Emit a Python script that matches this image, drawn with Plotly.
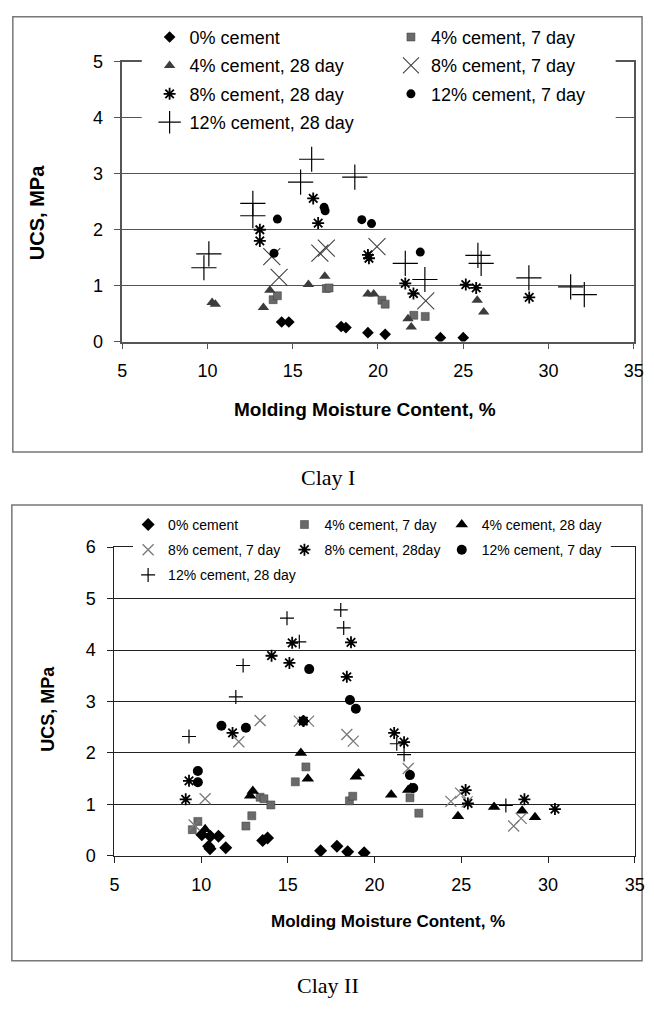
import plotly.graph_objects as go

# ---------------- DATA ----------------
names_clay1 = ["0% cement", "4% cement, 7 day", "4% cement, 28 day", "8% cement, 7 day",
               "8% cement, 28 day", "12% cement, 7 day", "12% cement, 28 day"]
names_clay2 = ["0% cement", "4% cement, 7 day", "4% cement, 28 day", "8% cement, 7 day",
               "8% cement, 28day", "12% cement, 7 day", "12% cement, 28 day"]

x_ticks = [5, 10, 15, 20, 25, 30, 35]
y_ticks_clay1 = [0, 1, 2, 3, 4, 5]
y_ticks_clay2 = [0, 1, 2, 3, 4, 5, 6]

# Clay I
c1_c0_x = [14.35, 14.77, 17.84, 18.12, 19.41, 20.42, 23.66, 25.0]
c1_c0_y = [0.35, 0.35, 0.27, 0.25, 0.16, 0.13, 0.07, 0.07]
c1_c4d7_x = [13.85, 14.1, 16.97, 17.13, 20.23, 20.42, 22.1, 22.77]
c1_c4d7_y = [0.75, 0.82, 0.95, 0.96, 0.74, 0.67, 0.47, 0.45]
c1_c4d28_x = [10.27, 10.46, 13.28, 13.66, 15.92, 16.88, 19.41, 19.75, 21.76, 21.95, 25.82, 26.2]
c1_c4d28_y = [0.70, 0.67, 0.61, 0.92, 1.02, 1.17, 0.85, 0.85, 0.41, 0.26, 0.74, 0.53]
c1_c8d7_x = [13.77, 14.2, 16.59, 16.97, 19.94, 22.8]
c1_c8d7_y = [1.52, 1.15, 1.58, 1.67, 1.70, 0.73]
c1_c8d28_x = [13.07, 13.07, 16.2, 16.49, 19.41, 19.47, 21.6, 22.08, 25.15, 25.76, 28.87]
c1_c8d28_y = [2.00, 1.80, 2.56, 2.12, 1.55, 1.49, 1.04, 0.86, 1.02, 0.96, 0.79]
c1_c12d7_x = [13.9, 14.1, 16.84, 16.9, 19.05, 19.62, 22.48]
c1_c12d7_y = [1.58, 2.19, 2.40, 2.34, 2.18, 2.11, 1.60]
c1_c12d28_x = [9.79, 10.08, 12.66, 12.66, 15.46, 16.11, 18.64, 21.6, 22.75, 25.86, 26.05, 28.85, 31.3, 32.1]
c1_c12d28_y = [1.32, 1.57, 2.47, 2.25, 2.85, 3.26, 2.94, 1.40, 1.11, 1.54, 1.40, 1.14, 0.98, 0.84]

# Clay II
c2_c0_x = [10.04, 10.43, 10.51, 10.53, 11.0, 11.42, 13.55, 13.83, 16.89, 17.83, 18.45, 19.4]
c2_c0_y = [0.41, 0.19, 0.14, 0.38, 0.38, 0.16, 0.30, 0.35, 0.10, 0.19, 0.08, 0.06]
c2_c4d7_x = [9.49, 9.81, 12.58, 12.92, 13.40, 13.62, 14.02, 15.43, 16.04, 18.55, 18.74, 22.04, 22.55]
c2_c4d7_y = [0.51, 0.67, 0.58, 0.78, 1.14, 1.11, 0.99, 1.44, 1.73, 1.07, 1.16, 1.13, 0.83]
c2_c4d28_x = [10.23, 12.83, 12.98, 15.75, 16.15, 18.92, 19.08, 20.96, 21.94, 22.09, 24.81, 26.89, 28.51, 29.25]
c2_c4d28_y = [0.52, 1.17, 1.26, 2.00, 1.50, 1.54, 1.60, 1.19, 1.28, 1.32, 0.77, 0.95, 0.88, 0.75]
c2_c8d7_x = [9.6, 10.23, 12.17, 13.40, 15.66, 16.19, 18.4, 18.77, 21.94, 24.4, 24.96, 25.34, 28.02, 28.45]
c2_c8d7_y = [0.60, 1.11, 2.22, 2.63, 2.62, 2.62, 2.36, 2.23, 1.70, 1.06, 1.22, 1.05, 0.58, 0.73]
c2_c8d28_x = [9.11, 9.30, 11.81, 14.06, 15.09, 15.25, 15.89, 18.4, 18.64, 21.13, 21.7, 25.25, 25.38, 28.64, 30.4]
c2_c8d28_y = [1.10, 1.46, 2.39, 3.89, 3.75, 4.14, 2.62, 3.48, 4.15, 2.39, 2.21, 1.28, 1.02, 1.10, 0.91]
c2_c12d7_x = [9.81, 9.81, 11.17, 12.58, 15.89, 16.23, 18.58, 18.92, 22.04, 22.23]
c2_c12d7_y = [1.65, 1.43, 2.53, 2.49, 2.62, 3.63, 3.03, 2.86, 1.57, 1.32]
c2_c12d28_x = [9.30, 12.0, 12.42, 14.95, 15.66, 18.05, 18.22, 21.28, 21.7, 27.57]
c2_c12d28_y = [2.32, 3.09, 3.70, 4.62, 4.16, 4.78, 4.43, 2.18, 1.97, 0.98]

clay1 = [(c1_c0_x, c1_c0_y), (c1_c4d7_x, c1_c4d7_y), (c1_c4d28_x, c1_c4d28_y), (c1_c8d7_x, c1_c8d7_y),
         (c1_c8d28_x, c1_c8d28_y), (c1_c12d7_x, c1_c12d7_y), (c1_c12d28_x, c1_c12d28_y)]
clay2 = [(c2_c0_x, c2_c0_y), (c2_c4d7_x, c2_c4d7_y), (c2_c4d28_x, c2_c4d28_y), (c2_c8d7_x, c2_c8d7_y),
         (c2_c8d28_x, c2_c8d28_y), (c2_c12d7_x, c2_c12d7_y), (c2_c12d28_x, c2_c12d28_y)]

# ---------------- STYLES ----------------
FONT = "Liberation Sans, Arial, sans-serif"
SERIF = "Liberation Serif, Times New Roman, serif"

style1 = [
    dict(symbol="diamond", size=9, color="black"),
    dict(symbol="square", size=8, color="#6a6a6a", line=dict(color="#3a3a3a", width=0.5)),
    dict(symbol="triangle-up", size=10, color="#3c3c3c"),
    dict(symbol="x-thin-open", size=17, color="#404040", line=dict(color="#404040", width=1.1)),
    dict(symbol="asterisk-open", size=10, color="black", line=dict(color="black", width=1.8)),
    dict(symbol="circle", size=9, color="black"),
    dict(symbol="cross-thin-open", size=18, color="black", line=dict(color="black", width=1.2)),
]
style2 = [
    dict(symbol="diamond", size=10, color="black"),
    dict(symbol="square", size=8, color="#6a6a6a", line=dict(color="#3a3a3a", width=0.5)),
    dict(symbol="triangle-up", size=11, color="black"),
    dict(symbol="x-thin-open", size=11, color="#7a7a7a", line=dict(color="#7a7a7a", width=1.3)),
    dict(symbol="asterisk-open", size=10, color="black", line=dict(color="black", width=1.8)),
    dict(symbol="circle", size=10, color="black"),
    dict(symbol="cross-thin-open", size=10, color="black", line=dict(color="black", width=1.2)),
]
# legend column assignment (Excel-like grid legends)
legend_of1 = ["legend", "legend2", "legend", "legend2", "legend", "legend2", "legend"]
legend_of2 = ["legend3", "legend4", "legend5", "legend3", "legend4", "legend5", "legend3"]

W, H = 654, 1010


def px_x(p):
    return p / W


def px_y(p):
    return 1 - p / H


fig = go.Figure()

for i, ((xs, ys), name, st) in enumerate(zip(clay1, names_clay1, style1)):
    fig.add_trace(go.Scatter(x=xs, y=ys, mode="markers", name=name, marker=st,
                             xaxis="x", yaxis="y", legend=legend_of1[i],
                             legendgroup=f"c1_{i}"))
for i, ((xs, ys), name, st) in enumerate(zip(clay2, names_clay2, style2)):
    fig.add_trace(go.Scatter(x=xs, y=ys, mode="markers", name=name, marker=st,
                             xaxis="x2", yaxis="y2", legend=legend_of2[i],
                             legendgroup=f"c2_{i}"))

axis_common = dict(showline=True, mirror=True, ticks="outside", ticklen=6,
                   tickfont=dict(family=FONT, size=18, color="black"),
                   zeroline=False, fixedrange=True)


def leg(xpx, ypx, size, gap):
    return dict(orientation="v", x=px_x(xpx), xanchor="left", y=px_y(ypx), yanchor="top",
                bgcolor="rgba(0,0,0,0)", borderwidth=0, traceorder="grouped",
                tracegroupgap=gap, font=dict(family=FONT, size=size, color="black"))


fig.update_layout(
    width=W, height=H, autosize=False,
    margin=dict(l=0, r=0, t=0, b=0),
    paper_bgcolor="white", plot_bgcolor="white",
    font=dict(family=FONT, color="black"),
    xaxis=dict(domain=[px_x(120), px_x(643.5)], range=[5, 35], tickvals=x_ticks,
               showgrid=False, linecolor="#555", linewidth=1.5, tickcolor="#555",
               ticklabelstandoff=6, anchor="y", **axis_common),
    yaxis=dict(domain=[px_y(338.3), px_y(53)], range=[0, 5], tickvals=y_ticks_clay1,
               showgrid=True, gridcolor="#555", gridwidth=1,
               linecolor="#555", linewidth=1.5, tickcolor="#555",
               ticklabelstandoff=8, anchor="x", **axis_common),
    xaxis2=dict(domain=[px_x(112), px_x(644.5)], range=[5, 35], tickvals=x_ticks,
                showgrid=False, linecolor="#222", linewidth=1.2, tickcolor="#222",
                ticklabelstandoff=6, anchor="y2", **axis_common),
    yaxis2=dict(domain=[px_y(863), px_y(548)], range=[0, 6], tickvals=y_ticks_clay2,
                showgrid=True, gridcolor="#222", gridwidth=1,
                linecolor="#222", linewidth=1.2, tickcolor="#222",
                ticklabelstandoff=8, anchor="x2", **axis_common),
    legend=leg(148, 9, 18, 2),
    legend2=leg(395, 9, 18, 2),
    legend3=leg(126, 509, 14, 4),
    legend4=leg(286, 509, 14, 4),
    legend5=leg(447, 509, 14, 4),
    showlegend=True,
)

# Outer chart boxes
fig.add_shape(type="rect", xref="paper", yref="paper",
              x0=px_x(8), x1=px_x(652), y0=px_y(451), y1=px_y(7),
              line=dict(color="#777", width=1.5), layer="below")
fig.add_shape(type="rect", xref="paper", yref="paper",
              x0=px_x(7), x1=px_x(652), y0=px_y(970), y1=px_y(505),
              line=dict(color="#777", width=1.5), layer="below")
# White legend backgrounds (cover gridlines behind the legend block, as in the original)
fig.add_shape(type="rect", xref="paper", yref="paper",
              x0=px_x(140), x1=px_x(625), y0=px_y(134), y1=px_y(18),
              line=dict(width=0), fillcolor="white", layer="above")
fig.add_shape(type="rect", xref="paper", yref="paper",
              x0=px_x(131), x1=px_x(620), y0=px_y(590), y1=px_y(510),
              line=dict(width=0), fillcolor="white", layer="above")

# Axis titles and captions
ann = [
    dict(text="<b>Molding Moisture Content, %</b>", x=px_x(368), y=px_y(408), size=19, family=FONT, angle=0),
    dict(text="<b>UCS, MPa</b>", x=px_x(33), y=px_y(207), size=20, family=FONT, angle=-90),
    dict(text="Clay I", x=px_x(331), y=px_y(477), size=22, family=SERIF, angle=0),
    dict(text="<b>Molding Moisture Content, %</b>", x=px_x(392), y=px_y(930), size=17, family=FONT, angle=0),
    dict(text="<b>UCS, MPa</b>", x=px_x(44), y=px_y(713), size=18, family=FONT, angle=-90),
    dict(text="Clay II", x=px_x(331), y=px_y(995), size=22, family=SERIF, angle=0),
]
for a in ann:
    fig.add_annotation(text=a["text"], x=a["x"], y=a["y"], xref="paper", yref="paper",
                       showarrow=False, textangle=a["angle"], xanchor="center", yanchor="middle",
                       font=dict(family=a["family"], size=a["size"], color="black"))

fig.write_html("out.html")
